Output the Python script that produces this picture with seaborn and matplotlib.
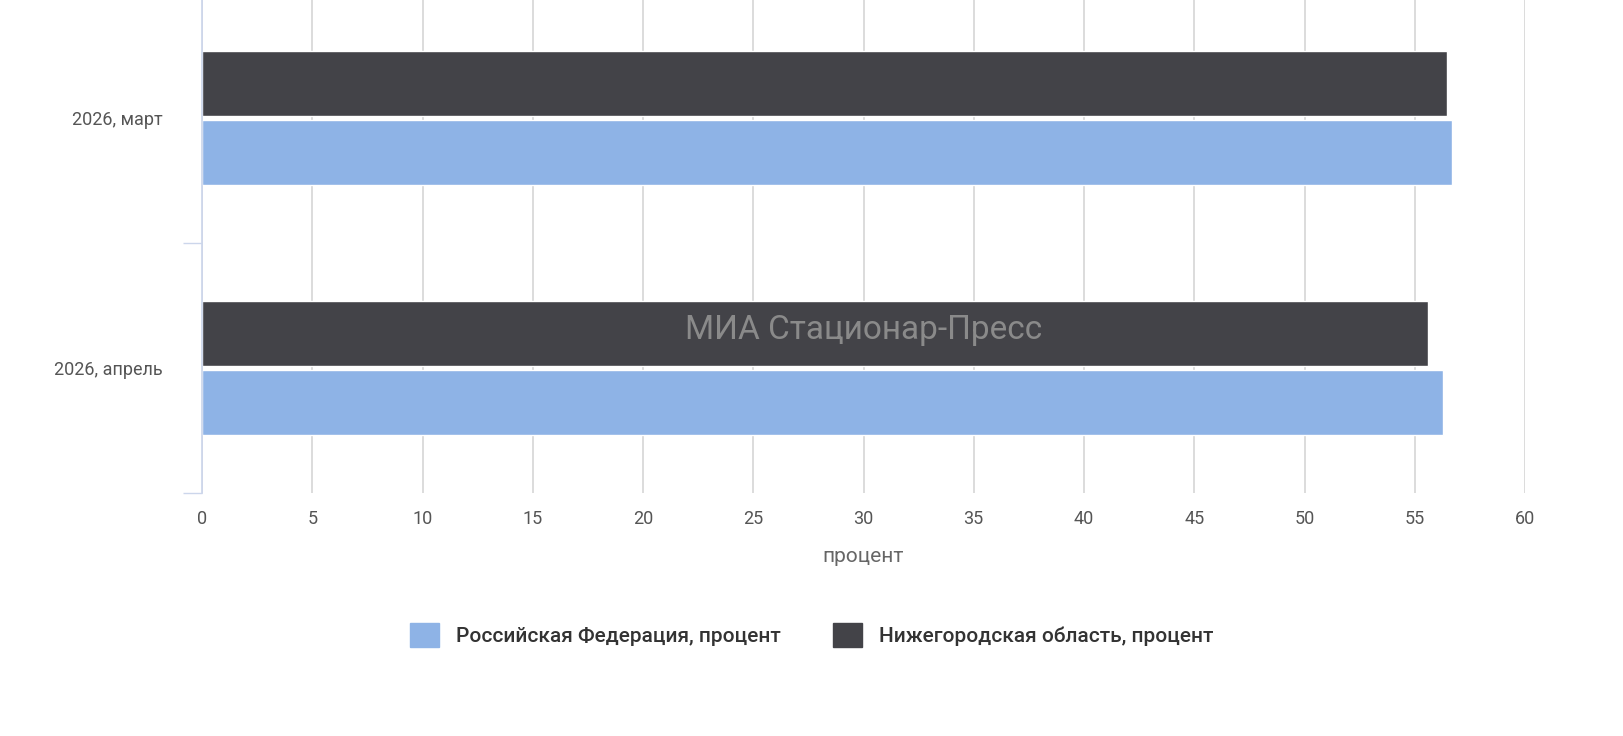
import matplotlib
matplotlib.use("Agg")
import matplotlib.pyplot as plt
import seaborn as sns
import pandas as pd
from matplotlib.patches import Patch

categories = ["2026, март", "2026, апрель"]
series_names = ["Нижегородская область, процент", "Российская Федерация, процент"]
nizhny = [56.45, 55.6]
russia = [56.7, 56.3]
colors = {"Нижегородская область, процент": "#434348", "Российская Федерация, процент": "#8eb3e6"}

df = pd.DataFrame({
    "cat": categories * 2,
    "series": [series_names[0]] * 2 + [series_names[1]] * 2,
    "value": nizhny + russia,
})

sns.set_theme(style="white")
plt.rcParams['font.family'] = ['Roboto', 'DejaVu Sans']
fig = plt.figure(figsize=(16.23, 7.36), dpi=100)
ax = fig.add_axes([202/1623, 1-493/736, (1525-202)/1623, 493/736])
sns.barplot(data=df, y="cat", x="value", hue="series", hue_order=series_names,
            palette=colors, saturation=1, orient="h", width=0.55, gap=0.06, ax=ax, legend=False)
ax.set_xlim(0, 60)
ax.set_ylim(1.5, -0.472)
ax.set_xticks(range(0, 61, 5))
ax.grid(axis="x", color="#d6d6d6", linewidth=1.2)
ax.set_axisbelow(True)
for s in ["top", "right", "bottom"]:
    ax.spines[s].set_visible(False)
ax.spines["left"].set_color("#ccd6eb")
ax.tick_params(axis="y", which="major", length=0, labelsize=13, labelcolor="#555555", pad=28)
ax.tick_params(axis="x", length=0, labelsize=13, labelcolor="#555555", pad=12)
ax.set_yticks([0.5, 1.5], minor=True)
ax.tick_params(axis="y", which="minor", left=True, length=14, color="#ccd6eb", width=1)
ax.set_ylabel("")
ax.set_xlabel("процент", fontsize=15, color="#666666", labelpad=14)
ax.text(0.5, 0.33, "МИА Стационар-Пресс", transform=ax.transAxes, ha="center", va="center",
        fontsize=24, color="#8a8a8a")
handles = [Patch(color=colors[series_names[1]], label=series_names[1]),
           Patch(color=colors[series_names[0]], label=series_names[0])]
fig.legend(handles=handles, loc="center", bbox_to_anchor=(0.5, 1-635/736), ncol=2, frameon=False,
           prop={"size": 15, "weight": "medium"}, handlelength=1.4, handleheight=1.4,
           columnspacing=2.5, labelcolor="#333333")
fig.savefig("out.png", dpi=100)
